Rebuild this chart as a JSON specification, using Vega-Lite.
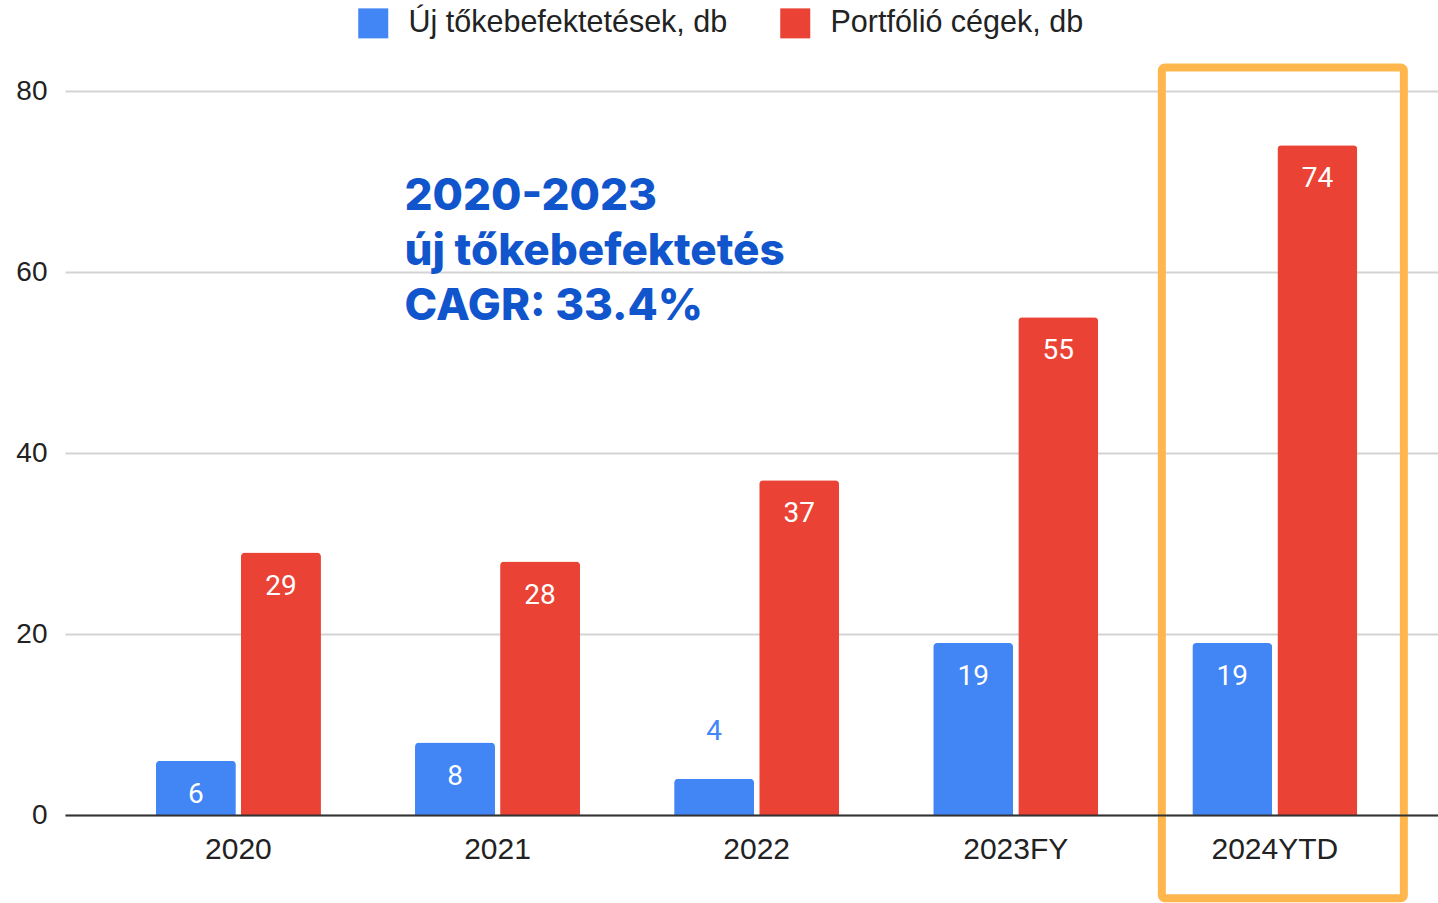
{
  "$schema": "https://vega.github.io/schema/vega-lite/v6.json",
  "width": 1373,
  "height": 724,
  "autosize": "none",
  "padding": {"left": 65, "top": 91, "right": 0, "bottom": 88},
  "background": "white",
  "config": {"view": {"stroke": null}, "font": "Roboto"},
  "datasets": {
    "bars": [
      {"year": "2020", "series": "Új tőkebefektetések, db", "value": 6},
      {"year": "2020", "series": "Portfólió cégek, db", "value": 29},
      {"year": "2021", "series": "Új tőkebefektetések, db", "value": 8},
      {"year": "2021", "series": "Portfólió cégek, db", "value": 28},
      {"year": "2022", "series": "Új tőkebefektetések, db", "value": 4},
      {"year": "2022", "series": "Portfólió cégek, db", "value": 37},
      {"year": "2023FY", "series": "Új tőkebefektetések, db", "value": 19},
      {"year": "2023FY", "series": "Portfólió cégek, db", "value": 55},
      {"year": "2024YTD", "series": "Új tőkebefektetések, db", "value": 19},
      {"year": "2024YTD", "series": "Portfólió cégek, db", "value": 74}
    ],
    "box": [{"year": "2024YTD", "top": 82.6, "bottom": -9.2}],
    "note": [{"t": "2020-2023\núj tőkebefektetés\nCAGR: 33.4%"}]
  },
  "layer": [
    {
      "data": {"name": "bars"},
      "mark": {"type": "bar", "cornerRadiusEnd": 4},
      "encoding": {
        "x": {
          "field": "year", "type": "nominal", "sort": null,
          "scale": {"type": "band", "paddingInner": 0.363, "paddingOuter": 0.331, "align": 0.53},
          "axis": {"title": null, "domainColor": "#333333", "domainWidth": 2, "ticks": false, "labelFont": "Liberation Sans", "labelFontSize": 30, "labelColor": "#222222", "labelPadding": 19, "labelAngle": 0, "zindex": 1}
        },
        "xOffset": {"field": "series", "type": "nominal", "sort": null, "scale": {"paddingInner": 0.06, "paddingOuter": 0}},
        "y": {
          "field": "value", "type": "quantitative",
          "scale": {"domain": [0, 80], "nice": false},
          "axis": {"title": null, "values": [0, 20, 40, 60, 80], "domain": false, "ticks": false, "gridColor": "#d3d3d3", "gridWidth": 2, "labelFont": "Liberation Sans", "labelFontSize": 28, "labelColor": "#222222", "labelPadding": 18}
        },
        "color": {
          "field": "series", "type": "nominal", "sort": null,
          "scale": {"domain": ["Új tőkebefektetések, db", "Portfólió cégek, db"], "range": ["#4285F4", "#EA4335"]},
          "legend": {"orient": "none", "legendX": 293, "legendY": -83, "direction": "horizontal", "title": null, "symbolType": "square", "symbolSize": 900, "symbolStrokeWidth": 0, "symbolOpacity": 1, "labelFont": "Liberation Sans", "labelFontSize": 30.5, "labelColor": "#222222", "labelOffset": 20, "labelLimit": 0, "columnPadding": 52}
        }
      }
    },
    {
      "data": {"name": "bars"},
      "transform": [{"filter": "datum.value >= 5"}],
      "mark": {"type": "text", "baseline": "middle", "dy": 34, "fontSize": 28, "color": "white"},
      "encoding": {
        "x": {"field": "year", "type": "nominal", "sort": null},
        "xOffset": {"field": "series", "type": "nominal", "sort": null},
        "y": {"field": "value", "type": "quantitative"},
        "text": {"field": "value", "type": "quantitative"}
      }
    },
    {
      "data": {"name": "bars"},
      "transform": [{"filter": "datum.value < 5"}],
      "mark": {"type": "text", "baseline": "middle", "dy": -47, "fontSize": 28, "color": "#4285F4"},
      "encoding": {
        "x": {"field": "year", "type": "nominal", "sort": null},
        "xOffset": {"field": "series", "type": "nominal", "sort": null},
        "y": {"field": "value", "type": "quantitative"},
        "text": {"field": "value", "type": "quantitative"}
      }
    },
    {
      "data": {"name": "box"},
      "mark": {"type": "bar", "width": 242, "xOffset": 8, "filled": false, "stroke": "#FFB74D", "strokeWidth": 8, "cornerRadius": 3, "clip": false},
      "encoding": {
        "x": {"field": "year", "type": "nominal"},
        "y": {"field": "top", "type": "quantitative"},
        "y2": {"field": "bottom"}
      }
    },
    {
      "data": {"name": "note"},
      "mark": {"type": "text", "align": "left", "baseline": "top", "lineBreak": "\n", "font": "Inter", "fontWeight": 800, "fontSize": 44, "lineHeight": 55, "color": "#1155CC", "dx": -93},
      "encoding": {
        "x": {"datum": "2021"},
        "y": {"datum": 70.7},
        "text": {"field": "t"}
      }
    }
  ]
}
